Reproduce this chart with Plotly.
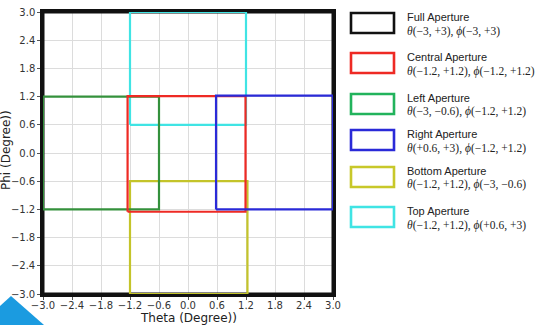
import plotly.graph_objects as go

# Aperture definitions: theta range (x) and phi range (y)
names = ["Full Aperture", "Central Aperture", "Left Aperture",
         "Right Aperture", "Bottom Aperture", "Top Aperture"]
labels = ["<i>θ</i>(−3, +3), <i>ϕ</i>(−3, +3)",
          "<i>θ</i>(−1.2, +1.2), <i>ϕ</i>(−1.2, +1.2)",
          "<i>θ</i>(−3, −0.6), <i>ϕ</i>(−1.2, +1.2)",
          "<i>θ</i>(+0.6, +3), <i>ϕ</i>(−1.2, +1.2)",
          "<i>θ</i>(−1.2, +1.2), <i>ϕ</i>(−3, −0.6)",
          "<i>θ</i>(−1.2, +1.2), <i>ϕ</i>(+0.6, +3)"]
theta_min = [-3.0, -1.25, -3.0, 0.58, -1.2, -1.2]
theta_max = [3.0, 1.19, -0.6, 3.0, 1.23, 1.2]
phi_min = [-3.0, -1.25, -1.2, -1.2, -3.0, 0.6]
phi_max = [3.0, 1.21, 1.2, 1.22, -0.6, 3.0]
plot_colors = ["#111111", "#ee2a24", "#34913c", "#2a2ad8", "#c4c42a", "#40e4e4"]
legend_colors = ["#111111", "#ee2a24", "#22b35c", "#2a2ad8", "#c8c82a", "#40e4e4"]
ticks = [-3.0, -2.4, -1.8, -1.2, -0.6, 0.0, 0.6, 1.2, 1.8, 2.4, 3.0]
tick_text = ["−3.0", "−2.4", "−1.8", "−1.2", "−0.6", "0.0", "0.6", "1.2", "1.8", "2.4", "3.0"]

fig = go.Figure()
order = [0, 5, 4, 2, 1, 3]
for i in order:
    x0, x1, y0, y1 = theta_min[i], theta_max[i], phi_min[i], phi_max[i]
    fig.add_trace(go.Scatter(
        x=[x0, x1, x1, x0, x0], y=[y0, y0, y1, y1, y0],
        mode="lines", line=dict(color=plot_colors[i], width=2.2 if i else 3),
        showlegend=False, hoverinfo="skip"))

L, R, T, B = 43, 333, 12, 294
W, H = 537, 325
def px(x):
    return (x - L) / (R - L)
def py(y):
    return (B - y) / (B - T)

shapes = []
annotations = []
box_tops = [13, 53, 94, 130, 167, 207]
for k, top in enumerate(box_tops):
    shapes.append(dict(type="rect", xref="paper", yref="paper",
                       x0=px(351), x1=px(394), y0=py(top), y1=py(top + 20),
                       line=dict(color=legend_colors[k], width=2.6),
                       fillcolor="rgba(0,0,0,0)"))
    annotations.append(dict(xref="paper", yref="paper", x=px(405), y=py(top + 4),
                            text=names[k], showarrow=False, xanchor="left", yanchor="middle",
                            font=dict(family="Liberation Sans", size=11, color="#222222")))
    annotations.append(dict(xref="paper", yref="paper", x=px(405), y=py(top + 18),
                            text=labels[k], showarrow=False, xanchor="left", yanchor="middle",
                            font=dict(family="Liberation Serif", size=11.5, color="#222222")))

# decorative blue corner
shapes.append(dict(type="path", xref="paper", yref="paper",
                   path=f"M {px(0)} {py(306)} L {px(11)} {py(296)} L {px(44)} {py(325)} L {px(0)} {py(325)} Z",
                   fillcolor="#1b9be0", line=dict(width=0), layer="above"))

annotations.append(dict(xref="paper", yref="paper", x=px(6), y=py(150),
                        text="Phi (Degree))", textangle=-90, showarrow=False,
                        xanchor="center", yanchor="middle",
                        font=dict(family="DejaVu Sans", size=12, color="#222222")))
annotations.append(dict(xref="paper", yref="paper", x=px(188), y=py(318),
                        text="Theta (Degree))", showarrow=False,
                        xanchor="center", yanchor="middle",
                        font=dict(family="DejaVu Sans", size=12, color="#222222")))

axis_common = dict(range=[-3, 3], tickvals=ticks, ticktext=tick_text,
                   showgrid=True, gridcolor="#dcdcdc", gridwidth=1,
                   showline=True, linecolor="#111111", linewidth=2.5, mirror=True,
                   ticks="outside", ticklen=3, tickcolor="#555555",
                   tickfont=dict(family="DejaVu Sans", size=10, color="#333333"),
                   zeroline=False, automargin=False)

fig.update_layout(
    width=W, height=H,
    margin=dict(l=L, r=W - R, t=T, b=H - B),
    paper_bgcolor="white", plot_bgcolor="white",
    xaxis=dict(**axis_common, ticklabelstandoff=-3),
    yaxis=dict(**axis_common),
    shapes=shapes, annotations=annotations,
)

fig.write_html("out.html", config={"displayModeBar": False},
               post_script="document.body.style.margin='0';document.body.style.overflow='hidden';")
